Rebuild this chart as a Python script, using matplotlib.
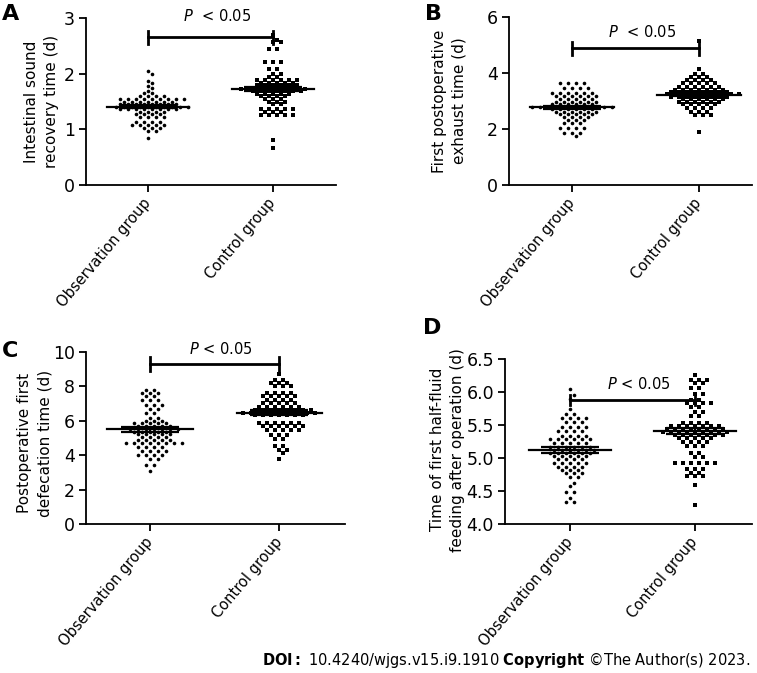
import numpy as np
import matplotlib.pyplot as plt

groups = ['Observation group', 'Control group']

# A - intestinal sound recovery time (d)
obs_a_vals = [2.05, 1.99, 1.87, 1.84, 1.78, 1.74, 1.69, 1.65, 1.59, 1.54, 1.50, 1.45, 1.41,
              1.36, 1.32, 1.27, 1.22, 1.14, 1.08, 1.03, 0.97, 0.84]
obs_a_counts = [1, 1, 1, 1, 1, 1, 1, 2, 4, 9, 7, 8, 10, 8, 4, 4, 4, 4, 5, 3, 2, 1]
ctl_a_vals = [2.70, 2.60, 2.56, 2.45, 2.21, 2.08, 1.99, 1.94, 1.88, 1.84, 1.80, 1.77, 1.72,
              1.68, 1.63, 1.59, 1.54, 1.50, 1.45, 1.36, 1.32, 1.26, 0.81, 0.67]
ctl_a_counts = [1, 1, 2, 2, 3, 2, 2, 2, 6, 5, 6, 5, 9, 7, 5, 4, 3, 3, 2, 5, 3, 5, 1, 1]
mean_a = [1.41, 1.72]
sem_a = [0.03, 0.04]

# B - first postoperative exhaust time (d)
obs_b_vals = [3.66, 3.45, 3.27, 3.18, 3.06, 2.98, 2.88, 2.80, 2.70, 2.62, 2.52, 2.42, 2.32,
              2.20, 2.02, 1.87, 1.75]
obs_b_counts = [4, 4, 6, 6, 5, 6, 6, 11, 6, 6, 5, 4, 3, 3, 4, 3, 1]
ctl_b_vals = [5.15, 4.13, 3.96, 3.87, 3.75, 3.63, 3.51, 3.39, 3.31, 3.25, 3.15, 3.06, 2.98,
              2.88, 2.74, 2.59, 2.50, 1.90]
ctl_b_counts = [1, 1, 2, 3, 4, 5, 6, 7, 8, 10, 8, 6, 6, 5, 4, 3, 3, 1]
mean_b = [2.77, 3.22]
sem_b = [0.05, 0.05]

# C - postoperative first defecation time (d)
obs_c_vals = [7.79, 7.60, 7.44, 7.21, 6.92, 6.67, 6.43, 6.18, 6.01, 5.85, 5.70, 5.60, 5.50,
              5.37, 5.22, 5.04, 4.88, 4.73, 4.50, 4.25, 4.01, 3.78, 3.43, 3.10]
obs_c_counts = [2, 3, 2, 3, 3, 2, 2, 2, 3, 5, 5, 5, 7, 5, 5, 4, 5, 8, 4, 4, 4, 2, 2, 1]
ctl_c_vals = [8.75, 8.37, 8.20, 8.00, 7.60, 7.44, 7.21, 7.02, 6.82, 6.63, 6.47, 6.34, 5.89,
              5.70, 5.47, 5.18, 4.93, 4.54, 4.30, 4.11, 3.76]
ctl_c_counts = [1, 2, 3, 3, 4, 5, 4, 5, 6, 8, 10, 7, 6, 6, 5, 3, 2, 2, 2, 1, 1]
mean_c = [5.50, 6.47]
sem_c = [0.15, 0.15]

# D - time of first half-fluid feeding after operation (d)
obs_d_vals = [6.04, 5.95, 5.89, 5.74, 5.67, 5.60, 5.54, 5.47, 5.41, 5.33, 5.29, 5.22, 5.16,
              5.12, 5.08, 5.03, 4.98, 4.92, 4.87, 4.82, 4.77, 4.71, 4.62, 4.58, 4.49, 4.39, 4.34]
obs_d_counts = [1, 1, 1, 1, 2, 4, 3, 4, 4, 4, 6, 5, 6, 6, 6, 5, 4, 5, 4, 3, 3, 2, 1, 1, 2, 1, 2]
ctl_d_vals = [6.26, 6.18, 6.13, 6.06, 5.97, 5.88, 5.83, 5.78, 5.69, 5.63, 5.53, 5.48, 5.44,
              5.40, 5.35, 5.30, 5.25, 5.18, 5.07, 5.01, 4.92, 4.83, 4.78, 4.72, 4.59, 4.29]
ctl_d_counts = [1, 3, 2, 2, 2, 2, 4, 2, 2, 2, 4, 7, 8, 9, 7, 5, 4, 3, 2, 2, 6, 3, 2, 3, 1, 1]
mean_d = [5.12, 5.41]
sem_d = [0.04, 0.05]

panels = [
    dict(letter='A', rect=[86, 18, 336, 185], xlim=(-0.496, 1.504), ylim=(0, 3),
         yticks=[0, 1, 2, 3], fmt='{:.0f}',
         ylabel='Intestinal sound\nrecovery time (d)', labx=-0.108, laby=0.5,
         obs=(obs_a_vals, obs_a_counts), ctl=(ctl_a_vals, ctl_a_counts),
         mean=mean_a, sem=sem_a, bar_y=2.65, tick_h=0.11, p_y=3.03, ptext='$P$  < 0.05',
         let_xy=(2, 14)),
    dict(letter='B', rect=[509, 17, 752, 185], xlim=(-0.496, 1.417), ylim=(0, 6),
         yticks=[0, 2, 4, 6], fmt='{:.0f}',
         ylabel='First postoperative\nexhaust time (d)', labx=-0.173, laby=0.5,
         obs=(obs_b_vals, obs_b_counts), ctl=(ctl_b_vals, ctl_b_counts),
         mean=mean_b, sem=sem_b, bar_y=4.88, tick_h=0.24, p_y=5.47, ptext='$P$  < 0.05',
         let_xy=(425, 14)),
    dict(letter='C', rect=[86, 352, 345, 524], xlim=(-0.496, 1.51), ylim=(0, 10),
         yticks=[0, 2, 4, 6, 8, 10], fmt='{:.0f}',
         ylabel='Postoperative first\ndefecation time (d)', labx=-0.131, laby=0.47,
         obs=(obs_c_vals, obs_c_counts), ctl=(ctl_c_vals, ctl_c_counts),
         mean=mean_c, sem=sem_c, bar_y=9.30, tick_h=0.39, p_y=10.2, ptext='$P$ < 0.05',
         let_xy=(2, 351)),
    dict(letter='D', rect=[505, 359, 752, 524], xlim=(-0.52, 1.456), ylim=(4.0, 6.5),
         yticks=[4.0, 4.5, 5.0, 5.5, 6.0, 6.5], fmt='{:.1f}',
         ylabel='Time of first half-fluid\nfeeding after operation (d)', labx=-0.162, laby=0.45,
         obs=(obs_d_vals, obs_d_counts), ctl=(ctl_d_vals, ctl_d_counts),
         mean=mean_d, sem=sem_d, bar_y=5.88, tick_h=0.08, p_y=6.12, ptext='$P$ < 0.05',
         let_xy=(423, 328)),
]

W, H = 757, 673
fig = plt.figure(figsize=(W / 100, H / 100), dpi=100)


def row_x(ax, x0, vals, counts, d):
    # GraphPad-style rows: equal values side by side, close rows staggered
    ppu = ax.transData.transform((1, 0))[0] - ax.transData.transform((0, 0))[0]
    ypx = ax.transData.transform(np.column_stack([np.zeros(len(vals)), vals]))[:, 1]
    xs = []
    prev_y, prev_phase = None, None
    for y, n in zip(ypx, counts):
        phase = 0.0 if n % 2 else 0.5
        shift = 0.0
        if prev_y is not None and abs(y - prev_y) < d * 0.8 and phase == prev_phase:
            shift = 0.5
            phase = (phase + 0.5) % 1.0
        offs = (np.arange(n) - (n - 1) / 2 + shift) * d
        xs.extend(x0 + offs / ppu)
        prev_y, prev_phase = y, phase
    return np.array(xs)


for p in panels:
    l, t, r, b = p['rect']
    ax = fig.add_axes([l / W, 1 - b / H, (r - l) / W, (b - t) / H])
    ax.set_xlim(*p['xlim'])
    ax.set_ylim(*p['ylim'])
    for s in ['top', 'right']:
        ax.spines[s].set_visible(False)
    for s in ['left', 'bottom']:
        ax.spines[s].set_linewidth(1.3)
    ax.set_yticks(p['yticks'])
    ax.set_yticklabels([p['fmt'].format(v) for v in p['yticks']], fontsize=12.5)
    ax.set_xticks([0, 1])
    ax.set_xticklabels(groups, rotation=50, ha='right', va='center',
                       rotation_mode='anchor', fontsize=10.5)
    ax.tick_params(direction='out', length=5, width=1.3, pad=3)
    ax.tick_params(axis='x', pad=6)
    ax.set_ylabel(p['ylabel'], fontsize=11, linespacing=1.4)
    ax.yaxis.set_label_coords(p['labx'], p['laby'])

    for gi, (key, mk, ms, d) in enumerate([('obs', 'o', 2.6, 8.0), ('ctl', 's', 2.7, 8.0)]):
        vals = np.repeat(p[key][0], p[key][1])
        xs = row_x(ax, gi, p[key][0], p[key][1], d)
        ax.plot(xs, vals, linestyle='none', marker=mk, ms=ms, color='black',
                markeredgewidth=0, clip_on=False, zorder=3)
        m, e = p['mean'][gi], p['sem'][gi]
        ax.plot([gi - 0.33, gi + 0.33], [m, m], color='black', lw=1.6, zorder=4)
        ax.errorbar(gi, m, yerr=e, color='black', lw=1.6, capsize=21, capthick=1.6, zorder=4)

    # significance bracket
    by, th = p['bar_y'], p['tick_h']
    ax.plot([0, 1], [by, by], color='black', lw=2, clip_on=False, zorder=5)
    ax.plot([0, 0], [by - th, by + th], color='black', lw=2, clip_on=False, zorder=5)
    ax.plot([1, 1], [by - th, by + th], color='black', lw=2, clip_on=False, zorder=5)
    ax.text(0.55, p['p_y'], p['ptext'], ha='center', va='center', fontsize=10.5, clip_on=False)

    fig.text(p['let_xy'][0] / W, 1 - p['let_xy'][1] / H, p['letter'], fontsize=16,
             fontweight='bold', ha='left', va='center')

fig.text(750 / W, 1 - 660 / H,
         r'$\bf{DOI{:}}$ 10.4240/wjgs.v15.i9.1910 $\bf{Copyright}$ ©The Author(s) 2023.',
         ha='right', va='center', fontsize=10.5)

fig.savefig('out.png', dpi=100, facecolor='white')
